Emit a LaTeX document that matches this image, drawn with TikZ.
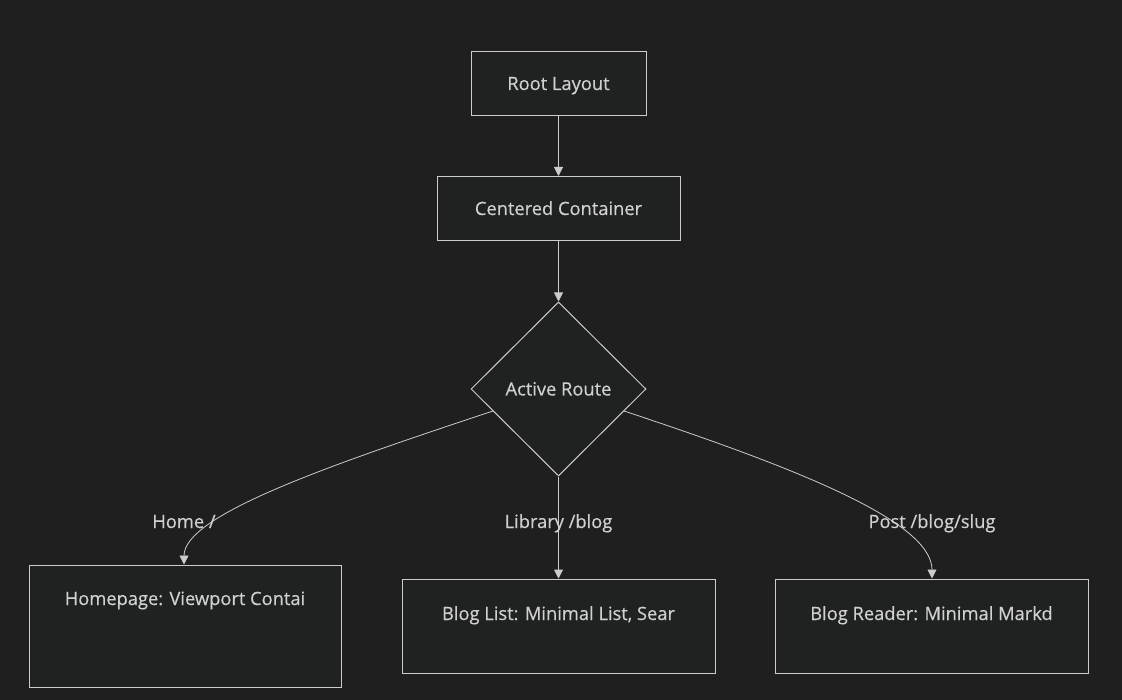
\documentclass[tikz,border=0pt]{standalone}
\usepackage{fontspec}
\setmainfont{Open Sans}[FakeBold=0.4]
\usetikzlibrary{arrows.meta,shapes.geometric}
\definecolor{bg}{HTML}{1F1F1F}
\definecolor{nodefill}{HTML}{202222}
\definecolor{stroke}{HTML}{CCCCCC}
\definecolor{txt}{HTML}{D0D0D0}
\tikzset{fnt/.style={font=\fontsize{18.3}{21}\selectfont,text height=13pt,text depth=0pt}}
\begin{document}
\begin{tikzpicture}[x=1pt,y=-1pt,
  box/.style={draw=stroke,fill=nodefill,line width=1pt,inner sep=0pt,fnt,text=txt},
  dia/.style={diamond,draw=stroke,fill=nodefill,line width=1pt,inner sep=0pt,aspect=1,
    minimum width=175pt,minimum height=174pt,fnt,text=txt},
  lbl/.style={fnt,text=txt,inner sep=0pt},
  conn/.style={draw=stroke,line width=1pt,-{Triangle[length=9pt,width=9pt]}},
  curv/.style={draw=stroke,line width=0.8pt,-{Triangle[length=9pt,width=9pt]}}]
\fill[bg] (0,0) rectangle (1122,700);
\useasboundingbox (0,0) rectangle (1122,700);
\node[box,minimum width=175pt,minimum height=64pt] (root) at (558.5,83.5) {Root Layout};
\node[box,minimum width=243pt,minimum height=64pt] (cont) at (558.5,208.5) {Centered Container};
\node[dia] (route) at (558.5,389) {Active Route};
\node[box,minimum width=312pt,minimum height=122pt] (home) at (185,626) {};
\node[box,minimum width=313pt,minimum height=94pt] (list) at (558.5,626) {};
\node[box,minimum width=313pt,minimum height=94pt] (read) at (931.5,626) {};
\node[lbl] (hometxt) at (185,598.5) {Homepage: Viewport Contai};
\node[lbl] (listtxt) at (558.5,613.5) {Blog List: Minimal List, Sear};
\node[lbl] (readtxt) at (931.5,613.5) {Blog Reader: Minimal Markd};
\draw[conn] (root) -- (cont);
\draw[conn] (cont) -- (route);
\coordinate (hs) at (493,411);
\coordinate (rs) at (624,411);
\draw[curv] (hs) .. controls (330,465) and (184,515) .. (home.north -| 184,0);
\draw[conn] (route.south) -- (list.north);
\draw[curv] (rs) .. controls (787,465) and (932,520) .. (read.north -| 932,0);
\node[lbl] (l1) at (184,521.5) {Home /};
\node[lbl] (l2) at (558.5,521.5) {Library /blog};
\node[lbl] (l3) at (932,521.5) {Post /blog/slug};
\end{tikzpicture}
\end{document}
